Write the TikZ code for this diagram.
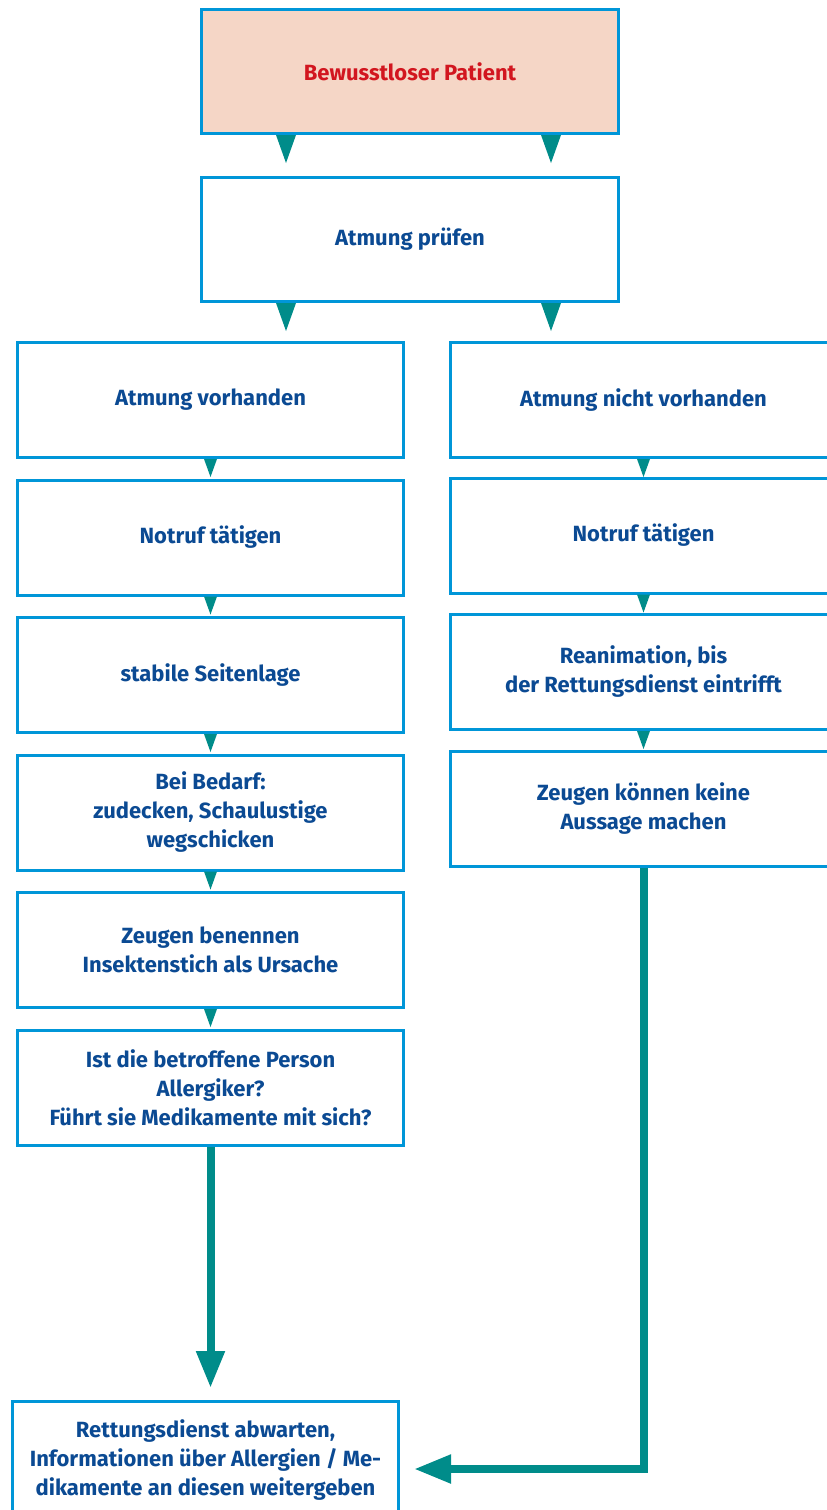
\documentclass[tikz,border=0pt]{standalone}
\usepackage{fontspec}
\setmainfont{Fira Sans}
\usetikzlibrary{arrows.meta,positioning}

\definecolor{rahmen}{HTML}{0096D8}
\definecolor{pfirsich}{HTML}{F5D6C6}
\definecolor{pfeil}{HTML}{008C8A}
\definecolor{textblau}{HTML}{0B4A93}
\definecolor{signalrot}{HTML}{D2161F}

\begin{document}
\begin{tikzpicture}[x=1pt,y=-1pt,>={Triangle[length=37pt,width=27pt]}]

	\tikzstyle{box}=[rectangle,draw=rahmen,line width=3pt,fill=white,text=textblau,
		font=\fontsize{22}{29}\selectfont\bfseries,align=center,
		minimum width=386pt,minimum height=115pt,inner sep=0pt]
	\tikzstyle{wide}=[box,minimum width=417pt,minimum height=124pt]
	\tikzstyle{spitze}=[fill=pfeil]
	\tikzstyle{fluss}=[draw=pfeil,line width=8pt,->]

	\clip (0,0) rectangle (827,1510);

	\node [wide,fill=pfirsich,text=signalrot] (bp) at (410,71.5) {Bewusstloser Patient};
	\node [wide] (ap) at (410,239.5) {Atmung prüfen};

	% linke Spalte
	\node [box] (av) at (210.5,400) {Atmung vorhanden};
	\node [box] (nl) [below=19.5pt of av] {Notruf tätigen};
	\node [box] (sl) [below=19.5pt of nl] {stabile Seitenlage};
	\node [box] (bb) [below=19.5pt of sl] {Bei Bedarf:\\zudecken, Schaulustige\\wegschicken};
	\node [box] (zb) [below=19.5pt of bb] {Zeugen benennen\\Insektenstich als Ursache};
	\node [box] (fm) [below=19.5pt of zb] {Ist die betroffene Person\\Allergiker?\\Führt sie Medikamente mit sich?};

	% rechte Spalte
	\node [box] (an) at (643.5,400) {Atmung nicht vorhanden};
	\node [box] (nr) [below=17.5pt of an] {Notruf tätigen};
	\node [box] (re) [below=18.5pt of nr] {Reanimation, bis\\der Rettungsdienst eintrifft};
	\node [box] (zk) [below=18.5pt of re] {Zeugen können keine\\Aussage machen};

	\node [box,minimum height=117pt] (rd) at (205.5,1460) {Rettungsdienst abwarten,\\Informationen über Allergien / Me-\\dikamente an diesen weitergeben};

	% Dreiecke
	\foreach \n in {bp,ap}
		\foreach \s in {-124,141}
			\fill [spitze] ([xshift=\s pt-10pt]\n.south) -- ([xshift=\s pt+10pt]\n.south)
				-- ([xshift=\s pt,yshift=-28pt]\n.south) -- cycle;

	\foreach \n in {av,nl,sl,bb,zb,an,nr,re}
		\fill [spitze] ([xshift=-6.5pt]\n.south) -- ([xshift=6.5pt]\n.south)
			-- ([yshift=-18pt]\n.south) -- cycle;

	\draw [fluss,shorten >=12pt] (fm.south) -- (fm.south |- rd.north);
	\draw [fluss,shorten >=14pt] (zk.south) |- ([yshift=-9pt]rd.east);
\end{tikzpicture}
\end{document}
